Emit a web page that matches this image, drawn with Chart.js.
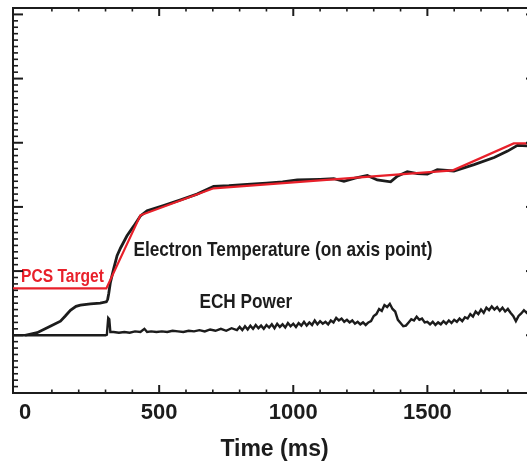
<!DOCTYPE html>
<html><head><meta charset="utf-8">
<script src="https://cdn.jsdelivr.net/npm/chart.js@4.4.1/dist/chart.umd.min.js"></script>
<style>html,body{margin:0;padding:0;overflow:hidden;background:#fff}canvas{display:block}</style>
</head><body>
<canvas id="c" width="545" height="469"></canvas>
<script>
// ---- data (time in ms, values in relative units) ----
const xTickValues = [0, 500, 1000, 1500];
const xTickLabels = ['0', '500', '1000', '1500'];

const teTime   = [0, 45, 94, 132, 150, 169, 190, 206, 244, 280, 303, 308, 312, 318, 330, 343, 356, 380, 405, 430, 455, 516, 580, 641, 703, 760, 828, 900, 960, 1015, 1100, 1151, 1189, 1230, 1276, 1313, 1363, 1388, 1425, 1463, 1500, 1537, 1599, 1674, 1749, 1799, 1836, 1873, 1905];
const teValues = [0, 0.04, 0.14, 0.22, 0.30, 0.39, 0.45, 0.47, 0.49, 0.50, 0.52, 0.56, 0.65, 0.82, 1.03, 1.24, 1.36, 1.55, 1.70, 1.86, 1.94, 2.02, 2.11, 2.20, 2.32, 2.33, 2.35, 2.37, 2.39, 2.42, 2.43, 2.44, 2.40, 2.45, 2.49, 2.42, 2.39, 2.48, 2.55, 2.52, 2.51, 2.58, 2.56, 2.66, 2.77, 2.87, 2.96, 2.95, 2.96];

const pcsTime   = [-45, 303, 430, 703, 1595, 1822, 1905];
const pcsValues = [0.73, 0.73, 1.87, 2.29, 2.57, 2.99, 2.99];

const echTime = [-45, 300, 305, 310, 314, 318, 330, 350, 370, 390, 410, 430, 445, 455, 470, 490, 510, 530, 550, 570, 590, 610, 630, 650, 670, 690, 710, 730, 750, 770, 790,
  800, 810, 820, 830, 840, 850, 860, 870, 880, 890, 900, 910, 920, 930, 940, 950, 960, 970, 980, 990,
  1000, 1010, 1020, 1030, 1040, 1050, 1060, 1070, 1080, 1090, 1100, 1110, 1120, 1130, 1140, 1150, 1160, 1170, 1180, 1190,
  1200, 1210, 1220, 1230, 1240, 1250, 1260, 1270, 1280, 1290, 1300, 1310, 1320, 1330, 1340, 1350, 1360, 1370, 1380, 1390,
  1400, 1410, 1420, 1430, 1440, 1450, 1460, 1470, 1480, 1490, 1500, 1510, 1520, 1530, 1540, 1550, 1560, 1570, 1580, 1590,
  1600, 1610, 1620, 1630, 1640, 1650, 1660, 1670, 1680, 1690, 1700, 1710, 1720, 1730, 1740, 1750, 1760, 1770, 1780, 1790,
  1800, 1810, 1820, 1830, 1840, 1850, 1860, 1870, 1880, 1890, 1905];
const echValues = [0, 0, 0.01, 0.27, 0.25, 0.05, 0.05, 0.04, 0.05, 0.04, 0.06, 0.05, 0.10, 0.05, 0.06, 0.05, 0.06, 0.05, 0.07, 0.06, 0.05, 0.07, 0.06, 0.08, 0.06, 0.09, 0.07, 0.10, 0.07, 0.11, 0.08,
  0.13, 0.08, 0.14, 0.09, 0.15, 0.10, 0.16, 0.11, 0.15, 0.10, 0.16, 0.12, 0.17, 0.11, 0.18, 0.13, 0.17, 0.12, 0.19, 0.14,
  0.18, 0.13, 0.19, 0.15, 0.21, 0.15, 0.20, 0.16, 0.23, 0.17, 0.22, 0.18, 0.21, 0.17, 0.23, 0.20, 0.27, 0.23, 0.26, 0.21,
  0.24, 0.20, 0.23, 0.18, 0.21, 0.17, 0.20, 0.16, 0.20, 0.22, 0.30, 0.33, 0.41, 0.38, 0.47, 0.44, 0.49, 0.41, 0.37, 0.24,
  0.19, 0.14, 0.15, 0.20, 0.25, 0.23, 0.29, 0.24, 0.26, 0.20, 0.21, 0.17, 0.21, 0.16, 0.20, 0.17, 0.22, 0.18, 0.23, 0.19,
  0.24, 0.21, 0.26, 0.22, 0.28, 0.26, 0.33, 0.29, 0.37, 0.33, 0.40, 0.35, 0.43, 0.39, 0.45, 0.40, 0.44, 0.38, 0.43, 0.37,
  0.41, 0.35, 0.30, 0.22, 0.30, 0.34, 0.39, 0.35, 0.40, 0.36, 0.38];

const seriesNames = ['ECH Power', 'Electron Temperature (on axis point)', 'PCS Target'];

// ---- annotation labels (anchored in data coordinates) ----
const annotations = [
  {text: 'PCS Target', x: -15, y: 0.83, color: '#e8202a', size: 19},
  {text: 'Electron Temperature (on axis point)', x: 404, y: 1.24, color: '#1c1c1c', size: 21},
  {text: 'ECH Power', x: 650, y: 0.43, color: '#1c1c1c', size: 21}
];

const FONT = '"Liberation Sans", Arial, Helvetica, sans-serif';
const NARROW = 0.82; // horizontal condensing to mimic Helvetica Narrow
const INK = '#1c1c1c';
const RED = '#e8202a';
const X_MIN = -45, X_MAX = 1905, Y_MIN = -0.9, Y_MAX = 5.1;

const zip = (xs, ys) => xs.map((x, i) => ({x, y: ys[i]}));

const innerTicks = {
  id: 'innerTicks',
  afterDraw(chart) {
    const {ctx, chartArea: a, scales: {x, y}} = chart;
    ctx.save();
    ctx.strokeStyle = INK;
    const seg = (x1, y1, x2, y2, w) => { ctx.lineWidth = w; ctx.beginPath(); ctx.moveTo(x1, y1); ctx.lineTo(x2, y2); ctx.stroke(); };
    for (let v = 100; v <= X_MAX; v += 100) {
      const px = x.getPixelForValue(v);
      if (px <= a.left || px >= a.right) continue;
      const major = v % 500 === 0;
      const len = major ? 8 : 3.5;
      const w = major ? 2 : 1.6;
      seg(px, a.bottom, px, a.bottom - len, w);
      seg(px, a.top, px, a.top + len, w);
    }
    for (let i = Math.ceil(Y_MIN * 10); i <= Math.floor(Y_MAX * 10); i++) {
      const py = y.getPixelForValue(i / 10);
      if (py <= a.top + 1 || py >= a.bottom - 1) continue;
      const major = i % 10 === 0;
      const len = major ? 10 : 5;
      const w = major ? 2 : 1.6;
      seg(a.left, py, a.left + len, py, w);
      seg(a.right, py, a.right - len, py, w);
    }
    ctx.restore();
  }
};

const textLabels = {
  id: 'textLabels',
  afterDatasetsDraw(chart) {
    const {ctx, scales: {x, y}} = chart;
    for (const an of annotations) {
      ctx.save();
      ctx.textBaseline = 'alphabetic';
      ctx.textAlign = 'left';
      ctx.font = `bold ${an.size}px ${FONT}`;
      ctx.fillStyle = an.color;
      ctx.translate(x.getPixelForValue(an.x), y.getPixelForValue(an.y));
      ctx.scale(NARROW, 1);
      ctx.fillText(an.text, 0, 0);
      ctx.restore();
    }
  }
};

new Chart(document.getElementById('c'), {
  type: 'scatter',
  data: {
    datasets: [
      {label: seriesNames[0], data: zip(echTime, echValues), showLine: true, borderColor: INK, borderWidth: 2.4, pointRadius: 0, tension: 0, order: 3},
      {label: seriesNames[1], data: zip(teTime, teValues), showLine: true, borderColor: INK, borderWidth: 2.8, pointRadius: 0, tension: 0, order: 2},
      {label: seriesNames[2], data: zip(pcsTime, pcsValues), showLine: true, borderColor: RED, borderWidth: 2.2, pointRadius: 0, tension: 0, order: 1}
    ]
  },
  options: {
    responsive: false,
    animation: false,
    layout: {padding: {left: 13, top: 8, right: 9, bottom: 0}},
    plugins: {legend: {display: false}, tooltip: {enabled: false}},
    scales: {
      x: {
        type: 'linear', position: 'bottom', min: X_MIN, max: X_MAX,
        grid: {display: false, drawTicks: false},
        border: {display: true, color: INK, width: 2},
        afterBuildTicks: s => { s.ticks = xTickValues.map(v => ({value: v})); },
        afterFit: s => { s.height = 76; },
        ticks: {
          color: INK, padding: 7, maxRotation: 0,
          font: {family: FONT, size: 22, weight: 'bold'},
          callback: v => xTickLabels[xTickValues.indexOf(v)]
        },
        title: {display: true, text: 'Time (ms)', color: INK, font: {family: FONT, size: 23, weight: 'bold'}, padding: {top: 0, bottom: 6}}
      },
      xTop: {
        type: 'linear', position: 'top', min: X_MIN, max: X_MAX,
        grid: {display: false, drawTicks: false},
        border: {display: true, color: INK, width: 2},
        ticks: {display: false},
        afterFit: s => { s.height = 0; }
      },
      y: {
        type: 'linear', position: 'left', min: Y_MIN, max: Y_MAX,
        grid: {display: false, drawTicks: false},
        border: {display: true, color: INK, width: 2},
        ticks: {display: false},
        afterFit: s => { s.width = 0; }
      },
      yRight: {
        type: 'linear', position: 'right', min: Y_MIN, max: Y_MAX,
        grid: {display: false, drawTicks: false},
        border: {display: true, color: INK, width: 2},
        ticks: {display: false},
        afterFit: s => { s.width = 0; }
      }
    }
  },
  plugins: [innerTicks, textLabels]
});
</script>
</body></html>
